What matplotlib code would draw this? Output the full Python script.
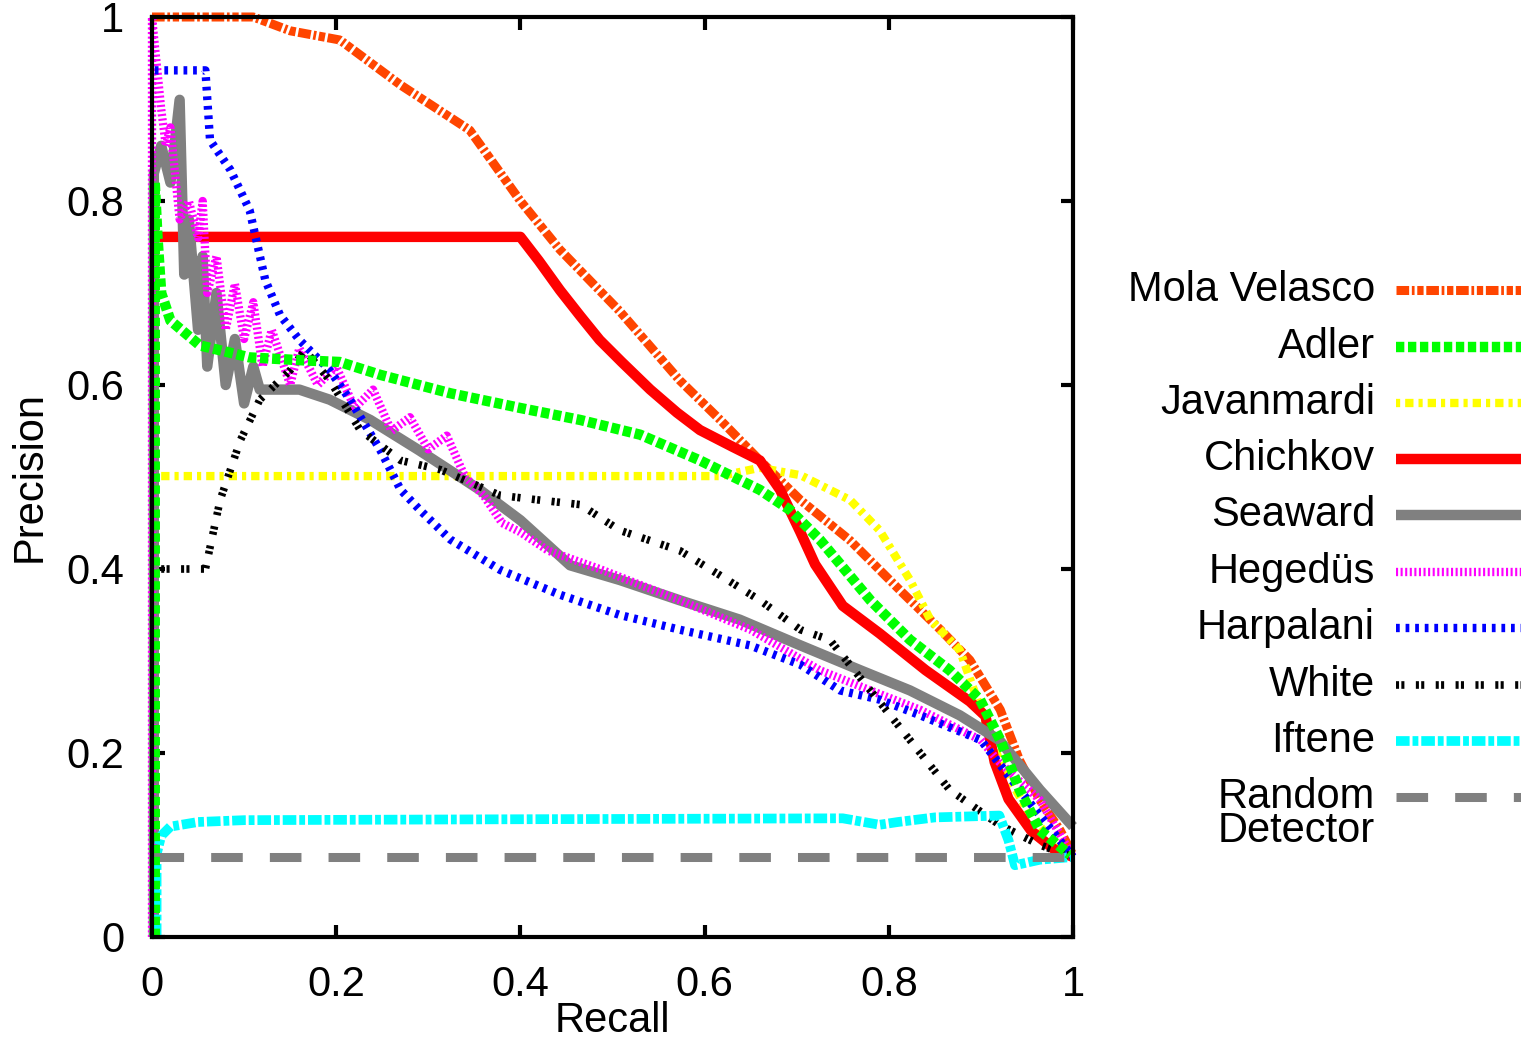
import matplotlib
matplotlib.use("Agg")
import matplotlib.pyplot as plt
from matplotlib.lines import Line2D

plt.rcParams["font.family"] = ["Liberation Sans", "DejaVu Sans"]

# ── Data ──────────────────────────────────────────────────────────────────────

mola_x = [0.0, 0.05, 0.11, 0.15, 0.204, 0.27, 0.345, 0.40, 0.443, 0.508, 0.573, 0.617,
          0.66, 0.704, 0.758, 0.812, 0.856, 0.888, 0.921, 0.942, 0.964, 0.986, 1.0]
mola_y = [1.0, 1.0, 1.0, 0.985, 0.975, 0.926, 0.877, 0.80, 0.747, 0.68, 0.605, 0.562,
          0.518, 0.475, 0.431, 0.377, 0.334, 0.301, 0.247, 0.192, 0.149, 0.116, 0.089]

adler_x = [0.003, 0.003, 0.006, 0.01, 0.02, 0.052, 0.106, 0.16, 0.204, 0.248, 0.324, 0.40,
           0.465, 0.53, 0.595, 0.66, 0.693, 0.725, 0.78, 0.823, 0.866, 0.899, 0.921,
           0.942, 0.964, 0.997]
adler_y = [0.0, 0.82, 0.76, 0.70, 0.67, 0.643, 0.63, 0.627, 0.625, 0.611, 0.591, 0.575,
           0.562, 0.546, 0.518, 0.486, 0.464, 0.432, 0.366, 0.323, 0.29, 0.258, 0.214,
           0.16, 0.116, 0.089]

javan_x = [0.0, 0.3, 0.617, 0.66, 0.704, 0.758, 0.79, 0.823, 0.845, 0.877, 0.904, 0.92,
           0.953, 0.986, 1.0]
javan_y = [0.501, 0.501, 0.501, 0.51, 0.502, 0.475, 0.442, 0.388, 0.345, 0.312, 0.236,
           0.192, 0.133, 0.095, 0.087]

chich_x = [0.005, 0.2, 0.40, 0.42, 0.443, 0.465, 0.486, 0.51, 0.541, 0.57, 0.595, 0.63,
           0.66, 0.682, 0.704, 0.72, 0.75, 0.79, 0.84, 0.888, 0.905, 0.915, 0.93, 0.955,
           0.98, 1.0]
chich_y = [0.761, 0.761, 0.761, 0.735, 0.703, 0.675, 0.649, 0.625, 0.595, 0.57, 0.551,
           0.533, 0.518, 0.486, 0.44, 0.405, 0.36, 0.33, 0.29, 0.256, 0.24, 0.19, 0.15,
           0.115, 0.095, 0.087]

seaw_x = [0.002, 0.002, 0.01, 0.02, 0.03, 0.035, 0.04, 0.05, 0.055, 0.06, 0.07, 0.08,
          0.09, 0.10, 0.11, 0.117, 0.16, 0.193, 0.237, 0.29, 0.356, 0.40, 0.454, 0.508,
          0.573, 0.638, 0.704, 0.769, 0.823, 0.877, 0.92, 0.964, 1.0]
seaw_y = [0.0, 0.83, 0.86, 0.82, 0.91, 0.72, 0.78, 0.66, 0.74, 0.62, 0.70, 0.60,
          0.65, 0.58, 0.62, 0.595, 0.595, 0.584, 0.562, 0.529, 0.486, 0.453, 0.404, 0.388,
          0.366, 0.345, 0.317, 0.29, 0.268, 0.241, 0.214, 0.16, 0.12]

heged_x = [0.0, 0.0, 0.005, 0.01, 0.015, 0.02, 0.03, 0.04, 0.05, 0.055, 0.06, 0.07, 0.08,
           0.09, 0.10, 0.11, 0.12, 0.13, 0.15, 0.16, 0.18, 0.20, 0.22, 0.24, 0.26, 0.28,
           0.30, 0.32, 0.34, 0.36, 0.38, 0.40, 0.43, 0.486, 0.573, 0.65, 0.725, 0.78,
           0.834, 0.90, 0.92, 0.964, 1.0]
heged_y = [0.0, 1.0, 0.95, 0.90, 0.86, 0.88, 0.78, 0.80, 0.76, 0.80, 0.70, 0.74, 0.66,
           0.71, 0.65, 0.69, 0.62, 0.66, 0.60, 0.64, 0.60, 0.62, 0.575, 0.595, 0.55, 0.565,
           0.53, 0.545, 0.50, 0.48, 0.45, 0.44, 0.42, 0.40, 0.366, 0.334, 0.29, 0.268,
           0.247, 0.214, 0.19, 0.149, 0.087]

harp_x = [0.003, 0.058, 0.063, 0.085, 0.106, 0.123, 0.139, 0.16, 0.193, 0.215, 0.248,
          0.27, 0.291, 0.324, 0.378, 0.443, 0.508, 0.573, 0.649, 0.704, 0.747, 0.79,
          0.834, 0.90, 0.942, 1.0]
harp_y = [0.942, 0.942, 0.866, 0.834, 0.79, 0.714, 0.676, 0.649, 0.616, 0.584, 0.529,
          0.486, 0.464, 0.432, 0.399, 0.372, 0.35, 0.334, 0.317, 0.296, 0.268, 0.258,
          0.241, 0.214, 0.16, 0.087]

white_x = [0.01, 0.058, 0.074, 0.096, 0.117, 0.15, 0.166, 0.193, 0.226, 0.27, 0.313,
           0.378, 0.42, 0.465, 0.508, 0.573, 0.617, 0.66, 0.704, 0.736, 0.78, 0.823,
           0.866, 0.92, 0.964, 1.0]
white_y = [0.40, 0.40, 0.475, 0.54, 0.584, 0.616, 0.638, 0.605, 0.551, 0.518, 0.508,
           0.48, 0.475, 0.47, 0.442, 0.42, 0.393, 0.366, 0.334, 0.323, 0.268, 0.214,
           0.16, 0.122, 0.10, 0.087]

ift_x = [0.005, 0.005, 0.01, 0.02, 0.05, 0.10, 0.40, 0.75, 0.79, 0.81, 0.85, 0.92,
         0.93, 0.937, 0.964, 1.0]
ift_y = [0.0, 0.09, 0.11, 0.12, 0.125, 0.127, 0.128, 0.129, 0.122, 0.125, 0.13, 0.132,
         0.105, 0.078, 0.084, 0.087]

rand_x = [0.0, 1.0]
rand_y = [0.087, 0.087]

# ── Styles ────────────────────────────────────────────────────────────────────

series = [
    ("Mola Velasco", mola_x, mola_y, "#FF4500", 6.5, (0, (1.4, 0.3, 0.3, 0.3, 0.7, 0.3))),
    ("Adler",        adler_x, adler_y, "#00FF00", 7.5, (0, (0.8, 0.35))),
    ("Javanmardi",   javan_x, javan_y, "#FFFF00", 6.0, (0, (0.5, 0.6, 1.0, 0.6))),
    ("Chichkov",     chich_x, chich_y, "#FF0000", 7.5, "-"),
    ("Seaward",      seaw_x, seaw_y, "#808080", 7.5, "-"),
    ("Hegedüs",      heged_x, heged_y, "#FF00FF", 6.0, (0, (0.25, 0.3))),
    ("Harpalani",    harp_x, harp_y, "#0000FF", 6.0, (0, (0.45, 0.7))),
    ("White",        white_x, white_y, "#000000", 5.5, (0, (0.4, 0.3, 0.4, 1.5))),
    ("Iftene",       ift_x, ift_y, "#00FFFF", 7.0, (0, (1.4, 0.3, 0.6, 0.3))),
    ("Random\nDetector", rand_x, rand_y, "#808080", 6.5, (0, (3.5, 3.0))),
]

W, H = 1521, 1042
fig = plt.figure(figsize=(W / 100, H / 100), dpi=100)
ax = fig.add_axes([152 / W, 1 - 937 / H, (1073 - 152) / W, (937 - 17) / H])

order_z = {"Adler": 5}
for i, (name, xs, ys, col, lw, ls) in enumerate(series):
    ax.plot(xs, ys, color=col, lw=lw, ls=ls, zorder=order_z.get(name, 2 + i * 0.1),
            solid_capstyle="butt", dash_capstyle="butt", clip_on=False)

ax.set_xlim(0, 1)
ax.set_ylim(0, 1)
ticks = [0, 0.2, 0.4, 0.6, 0.8, 1]
labels = ["0", "0.2", "0.4", "0.6", "0.8", "1"]
ax.set_xticks(ticks, labels)
ax.set_yticks(ticks, labels)
ax.tick_params(direction="in", length=9, width=3, labelsize=30, pad=20,
               top=True, right=True)
for s in ax.spines.values():
    s.set_linewidth(3)
    s.set_zorder(10)
ax.set_xlabel("Recall", fontsize=30, labelpad=-3)
ax.set_ylabel("Precision", fontsize=30, labelpad=12)

# ── Legend (outside right, gnuplot style) ─────────────────────────────────────

rows = [290, 347, 403, 459, 515, 572, 628, 685, 741, 797]
for (name, xs, ys, col, lw, ls), py in zip(series, rows):
    yf = 1 - py / H
    if "\n" in name:
        fig.text(1375 / W, 1 - 814 / H, name, ha="right", va="center",
                 fontsize=30, linespacing=0.8, multialignment="right")
    else:
        fig.text(1375 / W, yf, name, ha="right", va="center", fontsize=30)
    fig.add_artist(Line2D([1396 / W, 1521 / W], [yf, yf], color=col, lw=lw, ls=ls,
                          solid_capstyle="butt", dash_capstyle="butt",
                          transform=fig.transFigure))

fig.savefig("out.png", dpi=100)
